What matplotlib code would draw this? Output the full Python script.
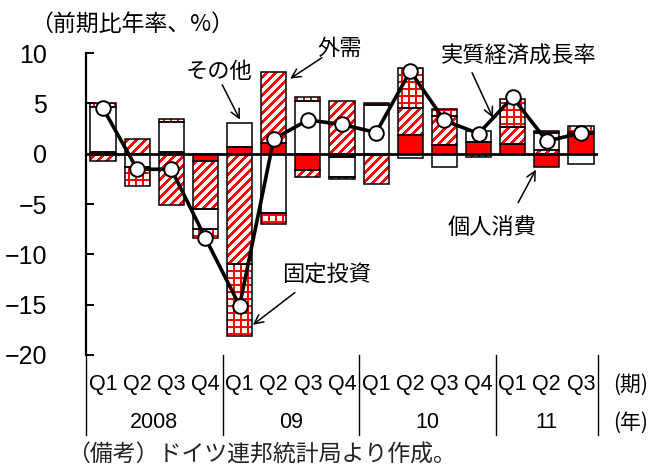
import numpy as np
import matplotlib
matplotlib.use("Agg")
import matplotlib.pyplot as plt
from matplotlib.path import Path
from matplotlib.transforms import TransformedPath

plt.rcParams['font.family'] = ['Noto Sans CJK JP', 'DejaVu Sans']
NUM_FONT = ['Liberation Sans Narrow', 'Liberation Sans', 'DejaVu Sans']

# Contributions to German real GDP growth (q/q annualised, %)
quarters = ["Q1", "Q2", "Q3", "Q4", "Q1", "Q2", "Q3", "Q4",
            "Q1", "Q2", "Q3", "Q4", "Q1", "Q2", "Q3"]
years = ["2008", "09", "10", "11"]
year_centers = [1.5, 5.5, 9.5, 13.0]
year_bounds = [-0.5, 3.5, 7.5, 11.5, 14.5]

consumption = [0.2, 0.0, 0.2, -0.7, 0.65, 1.1, -1.65, -0.3, -0.1, 1.9, 0.9, 1.2, 1.0, -1.3, 2.0]
net_exports = [-0.7, 1.5, -5.1, -4.8, -11.0, 7.0, -0.65, 5.2, -2.9, 2.6, 2.8, 0.0, 1.6, 0.4, 0.2]
other = [4.4, -1.35, 2.95, -2.0, 2.35, -5.85, 5.2, -2.0, 4.8, -0.45, -1.3, 1.1, 0.0, 1.7, -1.0]
investment = [0.4, -1.85, 0.25, -0.9, -7.1, -1.15, 0.4, -0.2, 0.2, 4.0, 0.7, -0.35, 2.8, 0.2, 0.55]
gdp = [4.5, -1.55, -1.55, -8.4, -15.1, 1.45, 3.35, 2.9, 2.1, 8.2, 3.3, 2.0, 5.6, 1.25, 2.05]

XLIM = (-0.5, 14.5)
YLIM = (-20, 10)
RED = np.array([1.0, 0.0, 0.0, 1.0])

fig = plt.figure(figsize=(6.58, 4.73), dpi=100)
ax = fig.add_axes([86 / 658, 1 - 355 / 473, 512 / 658, 302 / 473])

# Pixel-aligned fill patterns (diagonal stripes and a fine grid)
bbox = ax.get_window_extent()
H, W = int(round(bbox.height)), int(round(bbox.width))
ii, jj = np.mgrid[0:H, 0:W]
stripe_img = np.ones((H, W, 4))
stripe_img[((ii + jj) % 9) < 4] = RED
grid_img = np.ones((H, W, 4))
grid_img[((ii % 7) < 2) | ((jj % 7) < 2)] = RED


def pattern_fill(bars, img):
    paths = [b.get_patch_transform().transform_path(b.get_path()) for b in bars]
    clip = Path.make_compound_path(*paths)
    im = ax.imshow(img, extent=(*XLIM, *YLIM), origin="upper",
                   interpolation="nearest", aspect="auto", zorder=2.5)
    im.set_clip_path(TransformedPath(clip, ax.transData))


x = np.arange(len(quarters))
width = 0.74

components = [
    (consumption, "#ff0000", None),
    (net_exports, "white", stripe_img),
    (other, "white", None),
    (investment, "white", grid_img),
]

pos_base = np.zeros(len(x))
neg_base = np.zeros(len(x))
for values, face, pattern in components:
    v = np.asarray(values, dtype=float)
    bottom = np.where(v >= 0, pos_base, neg_base)
    bars = ax.bar(x, v, width, bottom=bottom, color=face, linewidth=0, zorder=2)
    if pattern is not None:
        pattern_fill(bars, pattern)
    ax.bar(x, v, width, bottom=bottom, fill=False, edgecolor="black",
           linewidth=1.1, zorder=3)
    pos_base = pos_base + np.where(v >= 0, v, 0)
    neg_base = neg_base + np.where(v < 0, v, 0)

ax.axhline(0, color="black", linewidth=2.0, zorder=4)

ax.plot(x, gdp, color="black", linewidth=2.6, marker="o", markersize=10.5,
        markerfacecolor="white", markeredgecolor="black", markeredgewidth=1.4,
        zorder=6)

ax.set_xlim(*XLIM)
ax.set_ylim(*YLIM)
for s in ("top", "right", "bottom"):
    ax.spines[s].set_visible(False)
ax.spines["left"].set_linewidth(1.6)

ax.set_yticks([-20, -15, -10, -5, 0, 5, 10])
ax.set_yticklabels(["\u221220", "\u221215", "\u221210", "\u22125", "0", "5", "10"],
                   family=NUM_FONT, fontsize=18)
ax.tick_params(axis="y", direction="in", length=6, width=1.4, pad=28)
ax.set_xticks([])

# Category axis: quarters, years and group separators
trans = ax.get_xaxis_transform()
for xi, q in zip(x, quarters):
    ax.text(xi, -0.099, q, transform=trans, ha="center", va="center",
            family=NUM_FONT, fontsize=15.5)
for xc, yr in zip(year_centers, years):
    ax.text(xc, -0.225, yr, transform=trans, ha="center", va="center",
            family=NUM_FONT, fontsize=15.5)
for xb in year_bounds:
    ax.plot([xb, xb], [0, -0.265], transform=trans, color="black",
            linewidth=1.0, clip_on=False)

fig.text(613 / 658, 1 - 385 / 473, "(期)", ha="left", va="center", fontsize=15)
fig.text(613 / 658, 1 - 423 / 473, "(年)", ha="left", va="center", fontsize=15)
fig.text(132 / 658, 1 - 24 / 473, "（前期比年率、%）", ha="center", va="center",
         fontsize=16.5)
fig.text(67 / 658, 1 - 455 / 473, "（備考）ドイツ連邦統計局より作成。", ha="left",
         va="center", fontsize=16.5, color="#222222")

arrow = dict(arrowstyle="->", color="black", linewidth=1.1,
             mutation_scale=16, shrinkA=0, shrinkB=0)
labels = [
    ("その他", (3.40, 8.14), (3.49, 6.85), (4.01, 3.38)),
    ("外需", (6.94, 10.5), (6.41, 9.53), (5.48, 7.45)),
    ("実質経済成長率", (12.19, 9.73), (10.81, 8.04), (11.42, 3.57)),
    ("個人消費", (11.40, -7.35), (12.16, -4.87), (12.68, -1.59)),
    ("固定投資", (6.56, -12.1), (5.62, -13.8), (4.39, -17.0)),
]
for text, tpos, tail, tip in labels:
    ax.text(tpos[0], tpos[1], text, ha="center", va="center", fontsize=16,
            zorder=7, clip_on=False)
    ax.annotate("", xy=tip, xytext=tail, arrowprops=arrow, zorder=7,
                annotation_clip=False)

fig.savefig("out.png", dpi=100)
